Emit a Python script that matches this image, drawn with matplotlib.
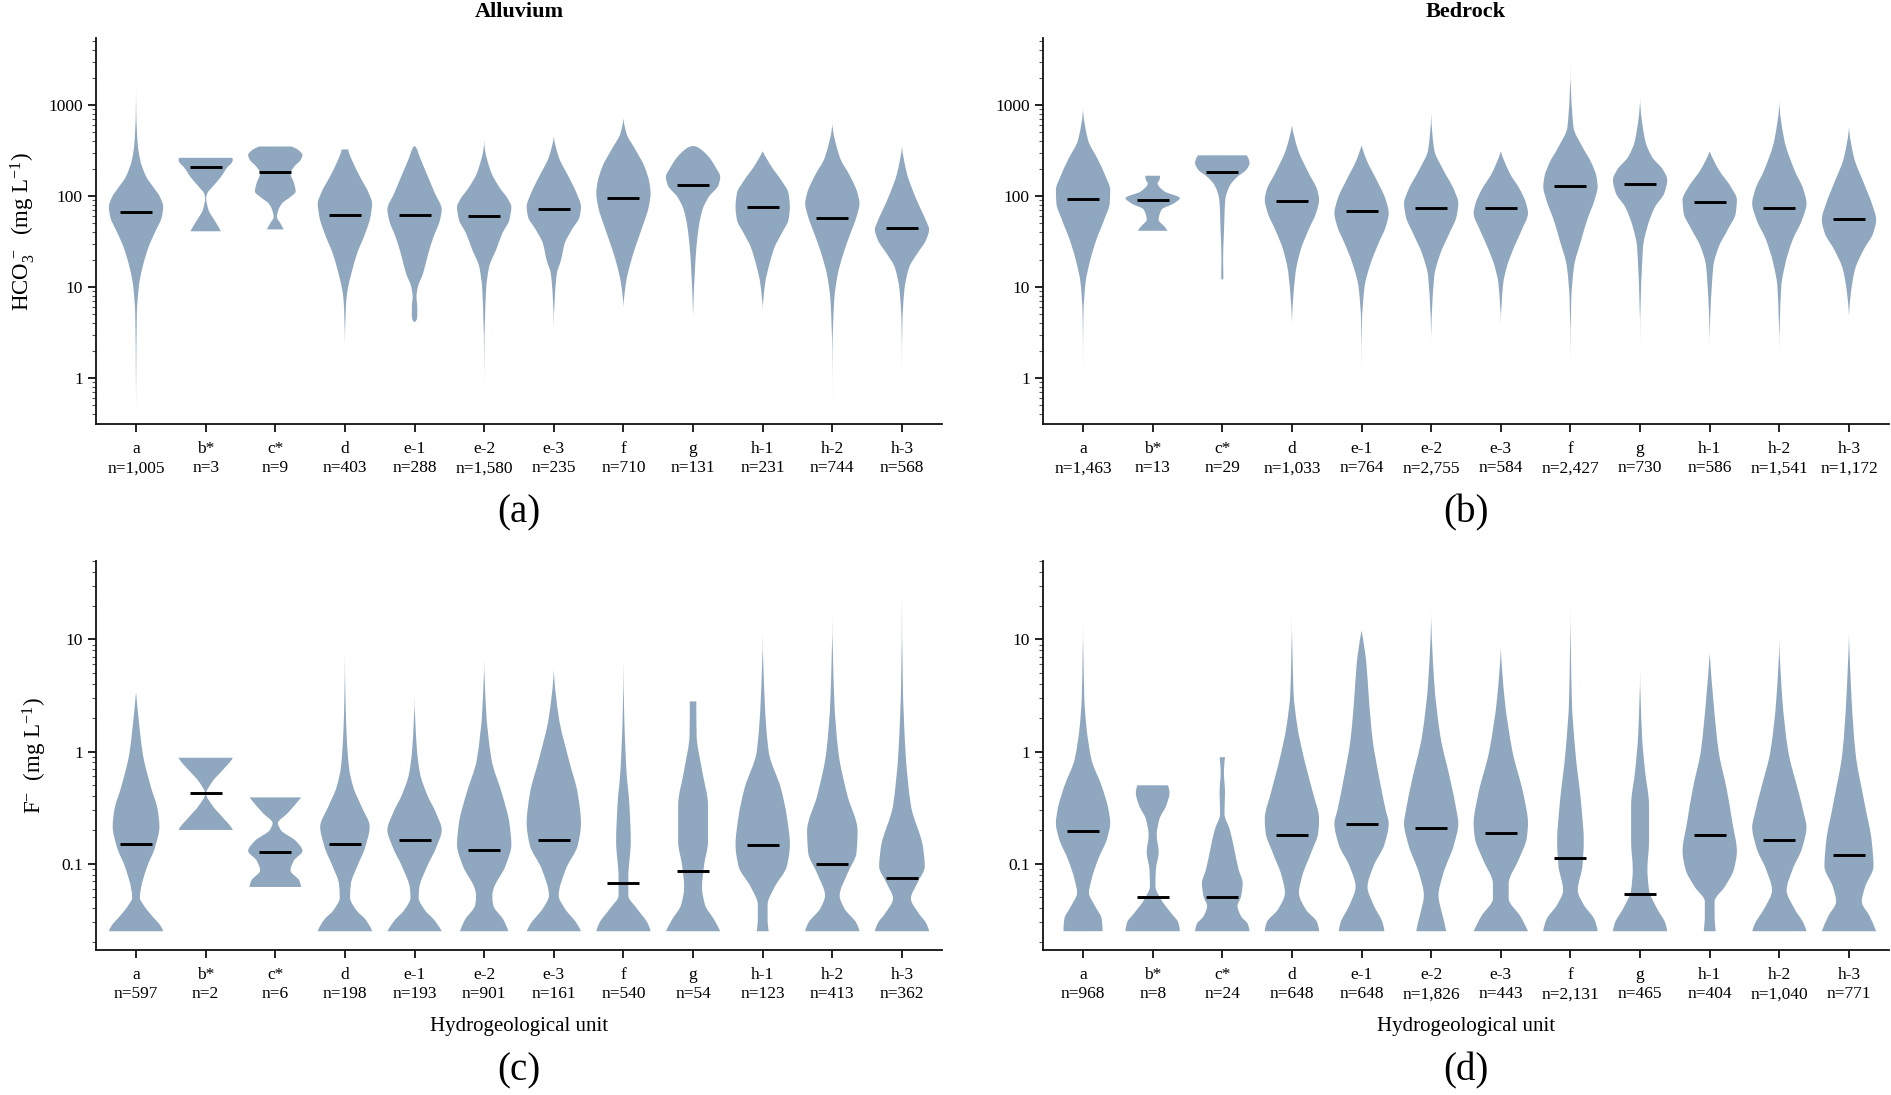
import numpy as np
import matplotlib
matplotlib.use("Agg")
import matplotlib.pyplot as plt
from matplotlib.path import Path
from matplotlib.patches import PathPatch
from matplotlib.ticker import FixedLocator, LogLocator, FuncFormatter, NullFormatter

plt.rcParams['font.family'] = ['Liberation Serif', 'DejaVu Serif']
plt.rcParams['mathtext.fontset'] = 'custom'
plt.rcParams['mathtext.rm'] = 'Liberation Serif'
plt.rcParams['mathtext.it'] = 'Liberation Serif:italic'
plt.rcParams['mathtext.bf'] = 'Liberation Serif:bold'

# ---------------- data ----------------
UNITS = ["a", "b*", "c*", "d", "e-1", "e-2", "e-3", "f", "g", "h-1", "h-2", "h-3"]

N_HCO3_ALLUVIUM = ["1,005", "3", "9", "403", "288", "1,580", "235", "710", "131", "231", "744", "568"]
N_HCO3_BEDROCK = ["1,463", "13", "29", "1,033", "764", "2,755", "584", "2,427", "730", "586", "1,541", "1,172"]
N_F_ALLUVIUM = ["597", "2", "6", "198", "193", "901", "161", "540", "54", "123", "413", "362"]
N_F_BEDROCK = ["968", "8", "24", "648", "648", "1,826", "443", "2,131", "465", "404", "1,040", "771"]

MEDIAN_HCO3_ALLUVIUM = [67, 210, 183, 62, 62, 61, 72, 94, 132, 76, 57, 45]
MEDIAN_HCO3_BEDROCK = [92, 91, 185, 88, 68, 73, 74, 130, 136, 86, 73, 56]
MEDIAN_F_ALLUVIUM = [0.15, 0.43, 0.126, 0.15, 0.163, 0.132, 0.163, 0.067, 0.086, 0.148, 0.10, 0.074]
MEDIAN_F_BEDROCK = [0.197, 0.05, 0.05, 0.182, 0.224, 0.21, 0.187, 0.112, 0.054, 0.18, 0.163, 0.12]

# density profiles: (concentration levels in mg/L, relative half-width)
PROFILE_HCO3_ALLUVIUM = {
    "a":   ([0.45, 1.0, 5.1, 10, 12, 17, 28, 43, 59, 76, 98, 126, 162, 251, 380, 800, 1860],
            [0.0, 0.006, 0.03, 0.1, 0.14, 0.25, 0.47, 0.75, 0.95, 1.0, 0.88, 0.63, 0.38, 0.15, 0.06, 0.01, 0.0]),
    "b*":  ([41, 46, 55, 71, 95, 107, 126, 162, 209, 230, 250, 263],
            [0.56, 0.47, 0.31, 0.1, 0.02, 0.06, 0.25, 0.56, 0.81, 0.95, 1.0, 0.97]),
    "c*":  ([43, 50, 59, 71, 83, 98, 112, 138, 178, 209, 251, 282, 320, 350],
            [0.31, 0.19, 0.06, 0.12, 0.25, 0.56, 0.75, 0.69, 0.56, 0.69, 0.94, 1.0, 0.85, 0.6]),
    "d":   ([2.4, 4.5, 7.2, 10, 17, 23, 39, 59, 83, 107, 162, 251, 300, 325],
            [0.0, 0.02, 0.05, 0.12, 0.31, 0.44, 0.75, 0.94, 1.0, 0.88, 0.56, 0.25, 0.15, 0.12]),
    "e-1": ([4.1, 4.4, 4.8, 6.0, 7.8, 10, 14, 23, 35, 55, 71, 107, 178, 269, 340, 355],
            [0.0, 0.08, 0.1, 0.1, 0.07, 0.12, 0.31, 0.5, 0.69, 0.94, 1.0, 0.75, 0.44, 0.19, 0.06, 0.0]),
    "e-2": ([0.7, 2.0, 9.3, 16.6, 25.7, 39, 55, 76, 91, 126, 178, 251, 320, 415],
            [0.0, 0.006, 0.07, 0.18, 0.44, 0.67, 0.93, 1.0, 0.89, 0.55, 0.27, 0.11, 0.03, 0.0]),
    "e-3": ([3.7, 8, 14, 20, 30, 43, 59, 76, 107, 162, 269, 450],
            [0.0, 0.04, 0.11, 0.27, 0.4, 0.67, 0.95, 1.0, 0.84, 0.55, 0.18, 0.0]),
    "f":   ([6, 11, 16.6, 27.5, 46, 76, 107, 138, 209, 324, 490, 740],
            [0.0, 0.09, 0.22, 0.44, 0.7, 0.93, 1.0, 0.96, 0.78, 0.44, 0.11, 0.0]),
    "g":   ([4.9, 16.6, 25.7, 46, 71, 98, 132, 162, 209, 269, 330, 345, 355],
            [0.0, 0.07, 0.11, 0.2, 0.33, 0.55, 0.89, 0.95, 0.78, 0.55, 0.25, 0.15, 0.0]),
    "h-1": ([5.4, 11, 16.6, 27.5, 39, 55, 76, 107, 151, 209, 310],
            [0.0, 0.09, 0.22, 0.44, 0.7, 0.95, 1.0, 0.95, 0.67, 0.33, 0.0]),
    "h-2": ([0.49, 2.0, 7.2, 12.9, 23, 39, 59, 83, 107, 162, 269, 660],
            [0.0, 0.006, 0.07, 0.18, 0.4, 0.67, 0.89, 1.0, 0.93, 0.67, 0.27, 0.0]),
    "h-3": ([1.2, 4.0, 9.3, 16.6, 23, 33, 43, 50, 71, 107, 178, 350],
            [0.0, 0.015, 0.09, 0.27, 0.55, 0.89, 1.0, 0.93, 0.7, 0.44, 0.18, 0.0]),
}

PROFILE_HCO3_BEDROCK = {
    "a":   ([1.2, 5, 11, 20, 33, 55, 83, 117, 162, 251, 417, 960],
            [0.0, 0.015, 0.09, 0.27, 0.49, 0.78, 0.98, 1.0, 0.84, 0.55, 0.18, 0.0]),
    "b*":  ([41.5, 46, 55, 71, 83, 95, 112, 138, 150, 167],
            [0.55, 0.44, 0.22, 0.33, 0.78, 1.0, 0.44, 0.18, 0.25, 0.27]),
    "c*":  ([12, 12.5, 20, 39, 91, 129, 162, 195, 229, 280],
            [0.0, 0.04, 0.03, 0.06, 0.11, 0.27, 0.55, 0.89, 1.0, 0.89]),
    "d":   ([3.6, 14, 26, 43, 65, 91, 117, 178, 324, 600],
            [0.0, 0.13, 0.33, 0.62, 0.89, 1.0, 0.93, 0.62, 0.22, 0.0]),
    "e-1": ([1.2, 4, 10, 18, 30, 46, 65, 91, 151, 251, 360],
            [0.0, 0.015, 0.11, 0.33, 0.62, 0.89, 1.0, 0.89, 0.55, 0.18, 0.0]),
    "e-2": ([2.4, 12.9, 23, 39, 59, 83, 117, 195, 324, 880],
            [0.0, 0.11, 0.33, 0.67, 0.93, 1.0, 0.84, 0.44, 0.11, 0.0]),
    "e-3": ([3.8, 11, 16.6, 27.5, 43, 65, 83, 117, 178, 310],
            [0.0, 0.09, 0.22, 0.49, 0.78, 1.0, 0.93, 0.71, 0.33, 0.0]),
    "f":   ([1.6, 7.2, 16.6, 33, 55, 91, 126, 162, 229, 347, 575, 2800],
            [0.0, 0.03, 0.13, 0.4, 0.62, 0.89, 1.0, 0.96, 0.78, 0.44, 0.11, 0.0]),
    "g":   ([2.4, 27.5, 46, 76, 107, 151, 195, 269, 417, 1240],
            [0.0, 0.11, 0.27, 0.55, 0.89, 1.0, 0.84, 0.44, 0.18, 0.0]),
    "h-1": ([2.1, 16.6, 27.5, 43, 65, 91, 126, 195, 310],
            [0.0, 0.13, 0.33, 0.67, 0.96, 1.0, 0.78, 0.33, 0.0]),
    "h-2": ([1.9, 10, 18, 33, 55, 83, 117, 195, 417, 1120],
            [0.0, 0.07, 0.22, 0.49, 0.84, 1.0, 0.89, 0.55, 0.18, 0.0]),
    "h-3": ([4.9, 8.5, 15.5, 26, 39, 55, 83, 138, 269, 580],
            [0.0, 0.07, 0.22, 0.55, 0.89, 1.0, 0.84, 0.55, 0.18, 0.0]),
}

PROFILE_F_ALLUVIUM = {
    "a":   ([0.025, 0.028, 0.034, 0.042, 0.05, 0.06, 0.093, 0.14, 0.214, 0.3, 0.48, 0.95, 2.0, 3.4],
            [1.0, 0.9, 0.6, 0.3, 0.14, 0.18, 0.4, 0.7, 0.86, 0.8, 0.55, 0.25, 0.09, 0.0]),
    "b*":  ([0.2, 0.21, 0.26, 0.33, 0.42, 0.54, 0.68, 0.84, 0.88],
            [1.0, 0.95, 0.62, 0.25, 0.02, 0.25, 0.62, 0.95, 1.0]),
    "c*":  ([0.062, 0.071, 0.087, 0.107, 0.13, 0.16, 0.2, 0.23, 0.28, 0.34, 0.39],
            [0.95, 0.88, 0.56, 0.69, 1.0, 0.75, 0.2, 0.1, 0.44, 0.75, 0.95]),
    "d":   ([0.025, 0.032, 0.038, 0.05, 0.066, 0.093, 0.141, 0.214, 0.32, 0.48, 0.72, 1.45, 3.0, 7.4],
            [1.0, 0.75, 0.44, 0.19, 0.22, 0.44, 0.75, 0.91, 0.62, 0.31, 0.15, 0.06, 0.02, 0.0]),
    "e-1": ([0.025, 0.032, 0.038, 0.05, 0.06, 0.093, 0.14, 0.2, 0.28, 0.42, 0.64, 1.1, 3.3],
            [1.0, 0.7, 0.4, 0.15, 0.17, 0.45, 0.8, 1.0, 0.8, 0.45, 0.2, 0.08, 0.0]),
    "e-2": ([0.025, 0.0316, 0.043, 0.052, 0.058, 0.095, 0.148, 0.229, 0.41, 0.85, 2.34, 7.0],
            [0.89, 0.71, 0.33, 0.3, 0.33, 0.78, 1.0, 0.93, 0.67, 0.27, 0.07, 0.0]),
    "e-3": ([0.025, 0.0295, 0.04, 0.052, 0.089, 0.148, 0.229, 0.41, 0.85, 2.04, 5.4],
            [1.0, 0.84, 0.4, 0.18, 0.44, 0.89, 1.0, 0.89, 0.55, 0.18, 0.0]),
    "f":   ([0.025, 0.0295, 0.04, 0.052, 0.076, 0.158, 0.33, 0.68, 2.04, 6.3],
            [1.0, 0.89, 0.49, 0.18, 0.18, 0.27, 0.22, 0.11, 0.03, 0.0]),
    "g":   ([0.025, 0.0316, 0.043, 0.062, 0.095, 0.158, 0.33, 0.68, 1.41, 2.8],
            [1.0, 0.78, 0.44, 0.33, 0.4, 0.55, 0.55, 0.33, 0.13, 0.12]),
    "h-1": ([0.025, 0.0316, 0.043, 0.062, 0.095, 0.148, 0.263, 0.47, 1.0, 2.95, 11.2],
            [0.22, 0.18, 0.18, 0.44, 0.89, 1.0, 0.89, 0.67, 0.22, 0.07, 0.0]),
    "h-2": ([0.025, 0.0295, 0.04, 0.052, 0.081, 0.126, 0.195, 0.41, 1.0, 2.95, 17],
            [1.0, 0.89, 0.44, 0.27, 0.55, 0.89, 0.93, 0.55, 0.22, 0.07, 0.0]),
    "h-3": ([0.025, 0.0295, 0.036, 0.049, 0.066, 0.095, 0.138, 0.33, 1.0, 4.2, 25],
            [1.0, 0.89, 0.62, 0.33, 0.55, 0.84, 0.78, 0.33, 0.13, 0.03, 0.0]),
}

PROFILE_F_BEDROCK = {
    "a":   ([0.025, 0.032, 0.042, 0.055, 0.072, 0.11, 0.166, 0.23, 0.30, 0.49, 0.85, 1.7, 2.9, 16],
            [0.72, 0.69, 0.44, 0.22, 0.31, 0.56, 0.88, 1.0, 0.94, 0.69, 0.31, 0.12, 0.05, 0.0]),
    "b*":  ([0.025, 0.03, 0.036, 0.048, 0.063, 0.089, 0.126, 0.18, 0.25, 0.33, 0.43, 0.5],
            [1.0, 0.94, 0.69, 0.31, 0.1, 0.12, 0.22, 0.15, 0.25, 0.5, 0.62, 0.56]),
    "c*":  ([0.025, 0.029, 0.034, 0.042, 0.051, 0.067, 0.089, 0.135, 0.2, 0.28, 0.43, 0.65, 0.89],
            [1.0, 0.94, 0.69, 0.56, 0.69, 0.75, 0.6, 0.44, 0.28, 0.08, 0.1, 0.06, 0.1]),
    "d":   ([0.025, 0.03, 0.039, 0.055, 0.078, 0.126, 0.19, 0.25, 0.43, 0.85, 1.7, 3.3, 18],
            [0.97, 0.9, 0.5, 0.25, 0.37, 0.69, 0.94, 0.97, 0.75, 0.44, 0.19, 0.06, 0.0]),
    "e-1": ([0.025, 0.0295, 0.043, 0.062, 0.095, 0.148, 0.229, 0.30, 0.55, 1.32, 2.95, 6.0, 12],
            [0.84, 0.78, 0.44, 0.22, 0.44, 0.84, 1.0, 0.89, 0.67, 0.4, 0.27, 0.18, 0.0]),
    "e-2": ([0.025, 0.0295, 0.036, 0.052, 0.081, 0.148, 0.229, 0.30, 0.55, 1.41, 4.2, 18],
            [0.55, 0.49, 0.4, 0.27, 0.44, 0.84, 1.0, 0.93, 0.71, 0.33, 0.11, 0.0]),
    "e-3": ([0.025, 0.034, 0.049, 0.066, 0.11, 0.17, 0.229, 0.41, 1.0, 2.95, 8.4],
            [0.93, 0.67, 0.27, 0.27, 0.62, 0.89, 0.93, 0.78, 0.4, 0.13, 0.0]),
    "f":   ([0.025, 0.0316, 0.043, 0.058, 0.095, 0.158, 0.33, 1.0, 2.95, 22],
            [1.0, 0.89, 0.49, 0.27, 0.44, 0.49, 0.4, 0.18, 0.05, 0.0]),
    "g":   ([0.025, 0.0295, 0.04, 0.058, 0.089, 0.158, 0.33, 0.68, 1.41, 5.6],
            [1.0, 0.93, 0.62, 0.33, 0.27, 0.33, 0.33, 0.18, 0.07, 0.0]),
    "h-1": ([0.025, 0.034, 0.046, 0.062, 0.089, 0.129, 0.229, 0.47, 1.0, 2.95, 7.5],
            [0.22, 0.18, 0.18, 0.55, 0.89, 1.0, 0.84, 0.62, 0.33, 0.13, 0.0]),
    "h-2": ([0.025, 0.0295, 0.04, 0.058, 0.089, 0.138, 0.214, 0.263, 0.47, 1.0, 2.95, 9.7],
            [1.0, 0.89, 0.55, 0.27, 0.49, 0.84, 1.0, 0.93, 0.67, 0.33, 0.11, 0.0]),
    "h-3": ([0.025, 0.034, 0.046, 0.062, 0.095, 0.158, 0.33, 1.0, 2.95, 11],
            [0.93, 0.71, 0.44, 0.55, 0.84, 0.78, 0.55, 0.22, 0.09, 0.0]),
}

# ---------------- style ----------------
VIOLIN_COLOR = "#8FA7BF"
VIOLIN_WIDTH = 0.78
FONT_TICK = 12.5
FONT_LABEL = 16.5
W, H = 1891, 1095


def pchip_slopes(t, v):
    """Shape-preserving tangents so the outline is drawn as smooth Bezier curves
    passing exactly through the read points (no overshoot)."""
    n = len(t)
    h = np.diff(t)
    d = np.diff(v) / h
    m = np.zeros(n)
    if n == 2:
        m[:] = d[0]
        return m
    for k in range(1, n - 1):
        if d[k - 1] * d[k] > 0:
            w1 = 2 * h[k] + h[k - 1]
            w2 = h[k] + 2 * h[k - 1]
            m[k] = (w1 + w2) / (w1 / d[k - 1] + w2 / d[k])

    def end(h0, h1, d0, d1):
        s = ((2 * h0 + h1) * d0 - h0 * d1) / (h0 + h1)
        if np.sign(s) != np.sign(d0):
            return 0.0
        if np.sign(d0) != np.sign(d1) and abs(s) > abs(3 * d0):
            return 3 * d0
        return s

    m[0] = end(h[0], h[1], d[0], d[1])
    m[-1] = end(h[-1], h[-2], d[-1], d[-2])
    return m


def violin_patch(pos, levels, widths, full_width, color):
    t = np.log10(np.asarray(levels, float))
    x = np.asarray(widths, float) / max(widths) * full_width / 2
    m = pchip_slopes(t, x)
    verts = [(pos - x[0], t[0]), (pos + x[0], t[0])]
    codes = [Path.MOVETO, Path.LINETO]
    for i in range(len(t) - 1):
        h = t[i + 1] - t[i]
        verts += [(pos + x[i] + m[i] * h / 3, t[i] + h / 3),
                  (pos + x[i + 1] - m[i + 1] * h / 3, t[i + 1] - h / 3),
                  (pos + x[i + 1], t[i + 1])]
        codes += [Path.CURVE4] * 3
    verts.append((pos - x[-1], t[-1]))
    codes.append(Path.LINETO)
    for i in range(len(t) - 1, 0, -1):
        h = t[i] - t[i - 1]
        verts += [(pos - x[i] + m[i] * h / 3, t[i] - h / 3),
                  (pos - x[i - 1] - m[i - 1] * h / 3, t[i - 1] + h / 3),
                  (pos - x[i - 1], t[i - 1])]
        codes += [Path.CURVE4] * 3
    verts.append(verts[0])
    codes.append(Path.CLOSEPOLY)
    verts = np.array(verts)
    verts[:, 1] = 10 ** verts[:, 1]
    return PathPatch(Path(verts, codes), facecolor=color, edgecolor="none", lw=0)


fig = plt.figure(figsize=(W / 100, H / 100), dpi=100)


def frac_rect(left, top, right, bottom):
    return [left / W, 1 - bottom / H, (right - left) / W, (bottom - top) / H]


panels = [
    dict(rect=frac_rect(96, 38, 942, 424), prof=PROFILE_HCO3_ALLUVIUM, med=MEDIAN_HCO3_ALLUVIUM,
         n=N_HCO3_ALLUVIUM, ylim=(0.313, 5445), majors=[1, 10, 100, 1000],
         ylabel=r"HCO$_3^{\,-}$  (mg L$^{-1}$)", labx=-0.07, title="Alluvium", tag="(a)", xlabel=False),
    dict(rect=frac_rect(1043, 38, 1889, 424), prof=PROFILE_HCO3_BEDROCK, med=MEDIAN_HCO3_BEDROCK,
         n=N_HCO3_BEDROCK, ylim=(0.313, 5445), majors=[1, 10, 100, 1000],
         ylabel=None, labx=None, title="Bedrock", tag="(b)", xlabel=False),
    dict(rect=frac_rect(96, 561, 942, 950), prof=PROFILE_F_ALLUVIUM, med=MEDIAN_F_ALLUVIUM,
         n=N_F_ALLUVIUM, ylim=(0.017, 50), majors=[0.1, 1, 10],
         ylabel=r"F$^{-}$  (mg L$^{-1}$)", labx=-0.056, title=None, tag="(c)", xlabel=True),
    dict(rect=frac_rect(1043, 561, 1889, 950), prof=PROFILE_F_BEDROCK, med=MEDIAN_F_BEDROCK,
         n=N_F_BEDROCK, ylim=(0.017, 50), majors=[0.1, 1, 10],
         ylabel=None, labx=None, title=None, tag="(d)", xlabel=True),
]

positions = np.arange(len(UNITS))
for p in panels:
    ax = fig.add_axes(p["rect"])
    ax.set_yscale("log")
    ax.set_xlim(-0.575, len(UNITS) - 1 + 0.575)
    ax.set_ylim(*p["ylim"])
    for pos, u in zip(positions, UNITS):
        lv, wd = p["prof"][u]
        ax.add_patch(violin_patch(pos, lv, wd, VIOLIN_WIDTH, VIOLIN_COLOR))
    ax.hlines(p["med"], positions - 0.23, positions + 0.23, color="black", lw=2.1, zorder=3)

    ax.yaxis.set_major_locator(FixedLocator(p["majors"]))
    ax.yaxis.set_major_formatter(FuncFormatter(lambda v, _: f"{v:g}"))
    ax.yaxis.set_minor_locator(LogLocator(base=10, subs=np.arange(2, 10)))
    ax.yaxis.set_minor_formatter(NullFormatter())
    ax.set_xticks(positions)
    ax.set_xticklabels([f"{u}\nn={n}" for u, n in zip(UNITS, p["n"])], fontsize=FONT_TICK,
                       linespacing=1.3)
    for s in ["top", "right"]:
        ax.spines[s].set_visible(False)
    for s in ["left", "bottom"]:
        ax.spines[s].set_linewidth(1.3)
        ax.spines[s].set_color("#111111")
    ax.tick_params(axis="both", which="major", length=6, width=1.3, colors="#111111",
                   labelsize=FONT_TICK, labelcolor="black")
    ax.tick_params(axis="x", which="major", pad=6)
    ax.tick_params(axis="y", which="minor", length=3, width=0.8, colors="#555555")
    ax.tick_params(axis="x", which="minor", bottom=False)

    if p["ylabel"]:
        ax.set_ylabel(p["ylabel"], fontsize=FONT_LABEL)
        ax.yaxis.set_label_coords(p["labx"], 0.5)
    cx = p["rect"][0] + p["rect"][2] / 2
    if p["title"]:
        fig.text(cx, 1 - 12 / H, p["title"], ha="center", va="center",
                 fontsize=16, fontweight="bold")
    if p["xlabel"]:
        fig.text(cx, 1 - 1026 / H, "Hydrogeological unit", ha="center", va="center",
                 fontsize=15)
    tag_y = 513 if p["tag"] in ("(a)", "(b)") else 1071
    fig.text(cx, 1 - tag_y / H, p["tag"], ha="center", va="center", fontsize=28)

fig.savefig("out.png", dpi=100)
